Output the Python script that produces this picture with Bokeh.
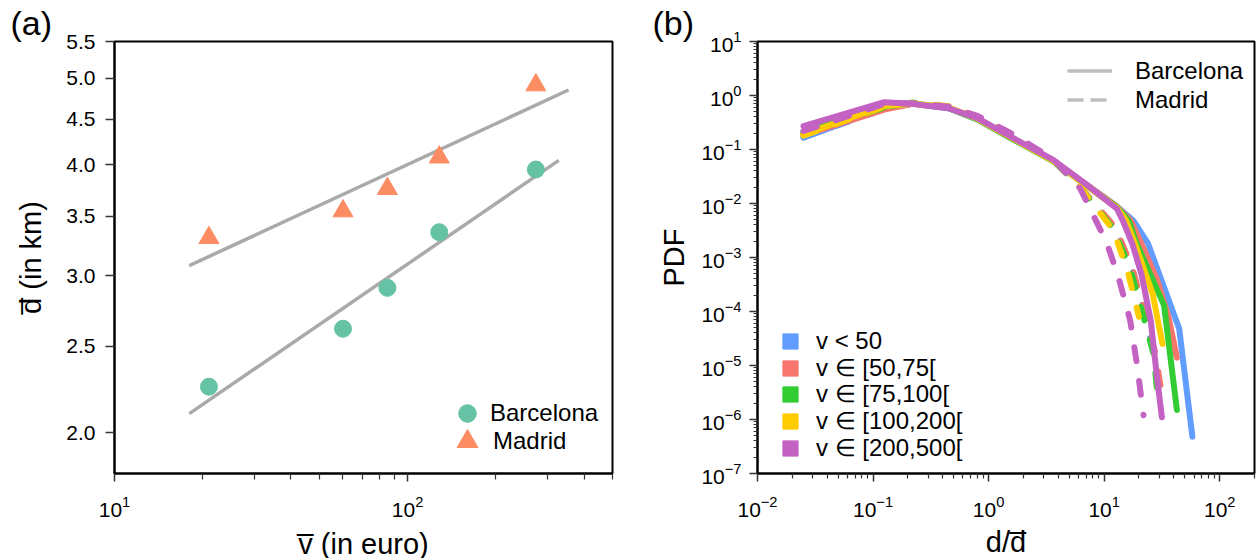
import numpy as np
from bokeh.plotting import figure
from bokeh.layouts import row
from bokeh.models import (FixedTicker, PrintfTickFormatter, Legend, LegendItem, Title)
from bokeh.embed import file_html
from bokeh.resources import INLINE

FONT = "Liberation Sans"

# ---------------- Panel (a) data ----------------
price_mean = [21.0, 60.2, 85.3, 128.2, 273.8]          # mean price per class (euro)
bcn_dist = [2.253, 2.617, 2.909, 3.359, 3.950]          # Barcelona mean distance (km)
mad_dist = [3.311, 3.548, 3.759, 4.078, 4.914]          # Madrid mean distance (km)
bcn_fit_range = [18.0, 328.0]
mad_fit_range = [18.0, 354.0]
a_yticks = [2.0, 2.5, 3.0, 3.5, 4.0, 4.5, 5.0, 5.5]
a_xticks = [10, 100]
a_xminor = [20, 30, 40, 50, 60, 70, 80, 90, 200, 300, 400, 500]

# ---------------- Panel (b) data ----------------
cat_labels = ["v < 50", "v \u2208 [50,75[", "v \u2208 [75,100[", "v \u2208 [100,200[", "v \u2208 [200,500["]
cat_colors = ["#619CFF", "#F8766D", "#33CC33", "#FFCC00", "#C462C4"]

bcn_body_x = [0.025, 0.125, 0.22, 0.45, 0.8, 1.5, 3.6, 6.9, 12.9]
bcn_body_y = [
    [0.165, 0.58, 0.70, 0.58, 0.36, 0.17, 0.062, 0.023, 0.0088],
    [0.185, 0.55, 0.70, 0.59, 0.37, 0.175, 0.063, 0.023, 0.0087],
    [0.21, 0.62, 0.72, 0.59, 0.36, 0.17, 0.061, 0.022, 0.0085],
    [0.19, 0.64, 0.71, 0.60, 0.37, 0.175, 0.062, 0.022, 0.0083],
    [0.27, 0.75, 0.70, 0.58, 0.38, 0.18, 0.065, 0.023, 0.0080],
]
bcn_tail_x = [
    [17.9, 24.0, 44.6, 58.0],
    [17.0, 21.0, 28.5, 36.0, 42.6],
    [16.3, 19.1, 33.0, 42.6],
    [15.5, 18.5, 26.3, 32.0],
    [14.5, 17.5, 21.0, 25.3, 28.6, 31.6],
]
bcn_tail_y = [
    [4.8e-3, 1.8e-3, 4.8e-5, 4.8e-7],
    [4.8e-3, 1.8e-3, 4.0e-4, 8.0e-5, 1.4e-5],
    [4.8e-3, 1.8e-3, 1.3e-4, 1.5e-6],
    [4.8e-3, 1.8e-3, 2.1e-4, 2.5e-5],
    [4.8e-3, 1.8e-3, 5.0e-4, 6.8e-5, 6.3e-6, 1.1e-6],
]

mad_body_x = [0.025, 0.125, 0.22, 0.45, 0.8, 1.5, 3.6, 6.2]
mad_body_y = [
    [0.17, 0.56, 0.72, 0.62, 0.40, 0.19, 0.063, 0.020],
    [0.19, 0.57, 0.73, 0.63, 0.40, 0.19, 0.064, 0.020],
    [0.20, 0.60, 0.74, 0.62, 0.40, 0.19, 0.064, 0.020],
    [0.18, 0.62, 0.72, 0.63, 0.41, 0.20, 0.066, 0.020],
    [0.22, 0.70, 0.72, 0.62, 0.42, 0.21, 0.068, 0.019],
]
mad_tail_x = [
    [12.5, 17.5, 22.5, 27.0],
    [12.5, 17.5, 22.0, 27.5, 31.6],
    [12.0, 16.8, 21.2, 26.7, 29.5],
    [12.0, 16.0, 20.0],
    [10.5, 13.3, 16.8, 19.2, 21.9],
]
mad_tail_y = [
    [3.5e-3, 6.0e-4, 9.0e-5, 1.5e-5],
    [3.6e-3, 6.5e-4, 1.1e-4, 1.8e-5, 3.0e-6],
    [3.4e-3, 6.2e-4, 1.05e-4, 1.66e-5, 2.0e-6],
    [3.2e-3, 5.5e-4, 8.0e-5],
    [1.9e-3, 4.3e-4, 6.8e-5, 1.07e-5, 1.2e-6],
]
b_yticks = [10.0 ** e for e in range(-7, 2)]
b_xticks = [10.0 ** e for e in range(-2, 3)]


def minor_log(lo_exp, hi_exp):
    return [k * 10.0 ** e for e in range(lo_exp, hi_exp) for k in range(2, 10)]


def style(p):
    p.outline_line_color = "black"
    p.outline_line_width = 2
    p.grid.visible = False
    p.background_fill_color = "white"
    p.border_fill_color = "white"
    for ax in p.axis:
        ax.axis_line_width = 2
        ax.axis_line_color = "black"
        ax.major_tick_line_width = 1.5
        ax.minor_tick_line_width = 1.2
        ax.major_tick_line_color = "#333333"
        ax.minor_tick_line_color = "#333333"
        ax.major_tick_in = 0
        ax.minor_tick_in = 0
        ax.major_label_text_font = FONT
        ax.major_label_text_font_size = "21px"
        ax.major_label_text_color = "black"
        ax.axis_label_text_font = FONT
        ax.axis_label_text_font_size = "29px"
        ax.axis_label_text_font_style = "normal"
        ax.axis_label_text_color = "black"


def panel_title(text, offset):
    return Title(text=text, align="left", offset=offset, standoff=0, text_font=FONT,
                 text_font_size="34px", text_font_style="normal", text_color="black")


def one_item_legend(label, renderer, loc, gw, gh, standoff):
    return Legend(items=[LegendItem(label=label, renderers=[renderer])],
                  location=loc, glyph_width=gw, glyph_height=gh, spacing=0,
                  padding=0, margin=0, label_standoff=standoff,
                  border_line_alpha=0, background_fill_alpha=0,
                  label_text_font=FONT, label_text_font_size="24px", label_text_color="black")


# ---------------- Figure (a) ----------------
pa = figure(x_axis_type="log", y_axis_type="log", x_range=(10, 500), y_range=(1.8, 5.5),
            frame_width=498, frame_height=432,
            min_border_left=114, min_border_right=28, min_border_top=41, min_border_bottom=85,
            output_backend="svg", toolbar_location=None)
pa.title = panel_title("(a)", -104)
style(pa)
pa.xaxis.ticker = FixedTicker(ticks=a_xticks, minor_ticks=a_xminor)
pa.yaxis.ticker = FixedTicker(ticks=a_yticks, minor_ticks=[])
pa.yaxis.formatter = PrintfTickFormatter(format="%.1f")
pa.xaxis.major_tick_out = 8
pa.xaxis.minor_tick_out = 6
pa.yaxis.major_tick_out = 9
pa.xaxis.major_label_standoff = 14
pa.yaxis.major_label_standoff = 10
pa.xaxis.axis_label = "v\u0305 (in euro)"
pa.yaxis.axis_label = "d\u0305 (in km)"
pa.xaxis.axis_label_standoff = 8
pa.yaxis.axis_label_standoff = 16

lx = np.log10(price_mean)
for dist, rng in ((bcn_dist, bcn_fit_range), (mad_dist, mad_fit_range)):
    k, c = np.polyfit(lx, np.log10(dist), 1)
    fx = np.array(rng)
    fy = 10 ** (c + k * np.log10(fx))
    pa.line(fx, fy, line_color="#AAAAAA", line_width=3.5)

r_bcn = pa.scatter(price_mean, bcn_dist, marker="circle", size=17, color="#66C2A5")
r_mad = pa.scatter(price_mean, mad_dist, marker="triangle", size=20, color="#FC8D62")

pa.add_layout(one_item_legend("Barcelona", r_bcn, (331, 38), 44, 44, 1))
pa.add_layout(one_item_legend("Madrid", r_mad, (327, 6), 52, 52, 0))

# ---------------- Figure (b) ----------------
pb = figure(x_axis_type="log", y_axis_type="log", x_range=(1e-2, 200), y_range=(1e-7, 1e1),
            frame_width=497, frame_height=432,
            min_border_left=117, min_border_right=3, min_border_top=41, min_border_bottom=85,
            output_backend="svg", toolbar_location=None)
pb.title = panel_title("(b)", -105)
style(pb)
pb.xaxis.ticker = FixedTicker(ticks=b_xticks, minor_ticks=minor_log(-2, 3))
pb.yaxis.ticker = FixedTicker(ticks=b_yticks, minor_ticks=minor_log(-7, 1))
pb.xaxis.major_tick_out = 8
pb.xaxis.minor_tick_out = 5
pb.yaxis.major_tick_out = 8
pb.yaxis.minor_tick_out = 4
pb.xaxis.major_label_standoff = 14
pb.yaxis.major_label_standoff = 8
pb.xaxis.axis_label = "d/d\u0305"
pb.yaxis.axis_label = "PDF"
pb.xaxis.axis_label_standoff = 6
pb.yaxis.axis_label_standoff = 8

for i, col in enumerate(cat_colors):
    pb.line(bcn_body_x + bcn_tail_x[i], bcn_body_y[i] + bcn_tail_y[i], line_color=col,
            line_width=6, line_join="round", line_cap="round")
    pb.line(mad_body_x + mad_tail_x[i], mad_body_y[i] + mad_tail_y[i], line_color=col,
            line_width=6, line_join="round", line_cap="round", line_dash="14 20")

nan = [float("nan")]
r_lb = pb.line(x=nan, y=nan, line_color="#BEBEBE", line_width=3.5)
r_lm = pb.line(x=nan, y=nan, line_color="#BEBEBE", line_width=3.5, line_dash="16 7")
pb.add_layout(one_item_legend("Barcelona", r_lb, (310, 388), 45, 29, 23))
pb.add_layout(one_item_legend("Madrid", r_lm, (310, 359), 45, 29, 23))

cat_bottoms = [113, 86, 60, 33, 6]
for lab, col, vb in zip(cat_labels, cat_colors, cat_bottoms):
    r = pb.scatter(x=nan, y=nan, marker="square", size=15, color=col)
    pb.add_layout(one_item_legend(lab, r, (14, vb), 38, 38, 7))

layout = row(pa, pb, spacing=0)
open("out.html", "w").write(file_html(layout, INLINE))
